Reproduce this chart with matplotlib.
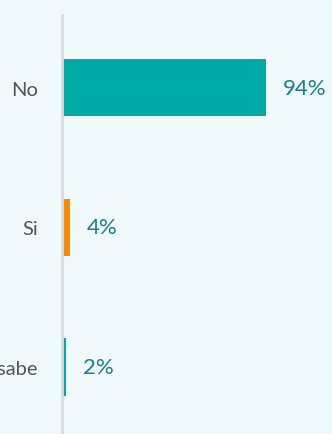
import matplotlib.pyplot as plt

categorias = ['No', 'Si', 'No sabe']
porcentajes = [94, 4, 2]
colores = ['#00aaa7', '#f98b00', '#00aaa7']

plt.rcParams['font.family'] = ['Lato', 'DejaVu Sans']

fig = plt.figure(figsize=(3.32, 4.35), dpi=100)
fig.patch.set_facecolor('#f0f9fb')
ax = fig.add_axes([61.5 / 332, 0, 1 - 61.5 / 332, 1 - 16 / 435])
ax.set_facecolor('#f0f9fb')

y = range(len(categorias))
ax.barh(y, porcentajes, height=0.41, color=colores)
for yi, v in zip(y, porcentajes):
    ax.annotate(f'{v}%', (v, yi), xytext=(12, 0), textcoords='offset points',
                va='center', ha='left', fontsize=16, color='#17808a')

ax.set_xlim(0, 124.4)
ax.set_ylim(2.48, -0.52)
ax.set_yticks(list(y))
ax.set_yticklabels(categorias, fontsize=14.5, color='#555555')
ax.tick_params(axis='y', length=0, pad=17)
ax.set_xticks([])
for s in ['top', 'right', 'bottom']:
    ax.spines[s].set_visible(False)
ax.spines['left'].set_color('#d8dcdd')
ax.spines['left'].set_linewidth(2)

fig.savefig('out.png', dpi=100, facecolor=fig.get_facecolor())
